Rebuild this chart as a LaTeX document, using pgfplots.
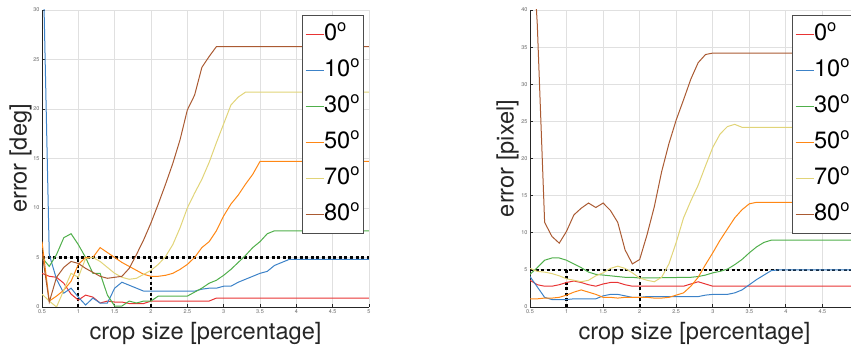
\documentclass[border=0pt]{standalone}
\usepackage{pgfplots}
\pgfplotsset{compat=1.18}
\usepackage{fontspec}
\setmainfont{TeX Gyre Heros}
\definecolor{cRed}{RGB}{232,52,52}
\definecolor{cBlue}{RGB}{60,130,200}
\definecolor{cGreen}{RGB}{80,175,75}
\definecolor{cOrange}{RGB}{255,135,20}
\definecolor{cYellow}{RGB}{225,212,120}
\definecolor{cBrown}{RGB}{170,90,50}
\pgfplotsset{
  myaxis/.style={
    scale only axis,
    anchor=south west,
    xmin=0.5, xmax=5,
    xtick={0.5,1,...,5},
    axis x line*=bottom, axis y line*=left,
    axis line style={line width=0.9pt, black!85},
    every axis plot/.append style={line width=1pt},
    grid=major,
    major grid style={line width=0.8pt, black!12},
    tick style={line width=0.8pt, black!85},
    major tick length=3pt,
    tick align=inside,
    /pgf/number format/assume math mode=true,
    ticklabel style={font=\fontsize{5.5}{6}\selectfont, text=black!60},
    xticklabel style={yshift=1pt},
    yticklabel style={xshift=1pt},
    label style={font=\fontsize{23.6}{28}\selectfont, text=black!85, inner sep=0pt},
    xlabel style={at={(axis description cs:0.5,0)}, anchor=north, yshift=-15pt},
    ylabel style={at={(axis description cs:0,0.5)}, anchor=south},
    legend style={at={(0.983,0.983)}, anchor=north east,
      font=\fontsize{23.6}{28}\selectfont,
      draw=black!70, line width=0.8pt, fill=white,
      inner xsep=3pt, inner ysep=1pt,
      row sep=0pt,
      nodes={inner sep=0pt, text height=24pt, text depth=12pt},
      cells={anchor=west}},
    legend image code/.code={\draw[#1, line width=1pt] (0pt,0pt) -- (18pt,0pt);},
    legend cell align=left,
  },
  dotln/.style={black, line width=2.3pt, dash pattern=on 3pt off 2.6pt, forget plot},
}
\begin{document}
\begin{tikzpicture}[x=1pt,y=1pt]
\clip (0,0) rectangle (851,352);
\useasboundingbox (0,0) rectangle (851,352);
% ---------------- left: error [deg]
\begin{axis}[myaxis, at={(42pt,45pt)}, width=327pt, height=297pt,
  ymin=0, ymax=30, ytick={0,5,...,30},
  xticklabels={0.5,1,1.5,2,2.5,3,3.5,4,4.5,5},
  xlabel={crop size [percentage]},
  ylabel={error [deg]},
  ylabel style={yshift=10pt},
]
\addplot[dotln] coordinates {(0.5,5)(5,5)};
\addplot[dotln] coordinates {(1,0)(1,5)};
\addplot[dotln] coordinates {(2,0)(2,5)};
\addplot[cRed] coordinates {(0.5,3.4)(0.6,3.1)(0.7,3.0)(0.8,2.4)(0.9,1.3)(1.0,0.7)(1.1,1.2)(1.2,1.0)(1.3,0.4)(1.4,0.6)(1.5,0.5)(1.6,0.5)(1.7,0.35)(1.8,0.35)(1.9,0.35)(2.0,0.6)(2.8,0.6)(2.9,0.9)(5,0.9)};
\addplot[cBlue] coordinates {(0.5,40)(0.6,5.3)(0.7,2.8)(0.8,1.4)(0.9,1.9)(1.0,1.0)(1.1,0.2)(1.2,0.9)(1.3,0.4)(1.4,0.4)(1.5,1.9)(1.6,2.5)(1.7,2.2)(1.8,1.9)(1.9,1.6)(2.0,1.6)(2.6,1.6)(2.7,1.8)(2.8,1.9)(2.9,1.9)(3.0,2.1)(3.1,2.1)(3.2,2.5)(3.3,2.8)(3.4,3.1)(3.5,3.4)(3.6,3.6)(3.7,4.2)(3.8,4.5)(3.9,4.8)(5,4.8)};
\addplot[cGreen] coordinates {(0.5,5.0)(0.6,4.1)(0.7,5.3)(0.8,7.0)(0.9,7.4)(1.0,6.3)(1.1,5.0)(1.2,3.4)(1.3,3.4)(1.4,1.2)(1.5,0.1)(1.6,0.1)(1.7,0.6)(1.8,0.4)(1.9,0.6)(2.0,0.6)(2.1,1.1)(2.5,1.1)(2.6,1.5)(2.7,1.9)(2.8,2.4)(2.9,2.7)(3.0,3.2)(3.1,3.8)(3.2,4.5)(3.3,5.2)(3.4,6.0)(3.5,6.6)(3.6,7.4)(3.7,7.7)(5,7.7)};
\addplot[cOrange] coordinates {(0.5,6.6)(0.6,0.6)(0.7,1.1)(0.8,1.7)(0.9,2.6)(1.0,4.3)(1.1,5.0)(1.2,5.0)(1.3,6.0)(1.4,5.5)(1.5,5.0)(1.6,4.5)(1.7,4.1)(1.8,3.7)(1.9,3.3)(2.0,3.1)(2.1,3.1)(2.2,3.2)(2.3,3.4)(2.4,3.8)(2.5,4.3)(2.6,5.0)(2.7,6.0)(2.8,6.6)(2.9,7.7)(3.0,9.2)(3.1,10.4)(3.2,11.3)(3.3,12.4)(3.4,13.4)(3.5,14.7)(5,14.7)};
\addplot[cYellow] coordinates {(0.5,1.3)(0.6,0.6)(0.7,0.0)(0.8,1.7)(0.9,3.4)(1.0,3.0)(1.1,4.9)(1.2,5.0)(1.3,4.6)(1.4,4.0)(1.5,3.4)(1.6,3.0)(1.7,2.8)(1.8,2.9)(1.9,3.3)(2.0,3.7)(2.1,4.3)(2.2,5.1)(2.3,6.3)(2.4,8.0)(2.5,10.0)(2.6,11.5)(2.7,12.9)(2.8,14.6)(2.9,16.6)(3.0,18.5)(3.1,20.4)(3.2,21.2)(3.3,21.7)(5,21.7)};
\addplot[cBrown] coordinates {(0.5,5.5)(0.6,0.5)(0.7,3.0)(0.8,4.0)(0.9,4.6)(1.0,4.4)(1.1,3.9)(1.2,3.5)(1.3,3.1)(1.4,2.9)(1.5,3.0)(1.6,3.1)(1.7,3.9)(1.8,5.3)(1.9,6.8)(2.0,8.5)(2.1,10.4)(2.2,12.4)(2.3,14.5)(2.4,16.9)(2.5,19.9)(2.6,21.4)(2.7,24.2)(2.8,25.3)(2.9,26.3)(5,26.3)};
\legend{0\textsuperscript{o},10\textsuperscript{o},30\textsuperscript{o},50\textsuperscript{o},70\textsuperscript{o},80\textsuperscript{o}}
\end{axis}
% ---------------- right: error [pixel]
\begin{axis}[myaxis, at={(530pt,45pt)}, width=329pt, height=297pt,
  ymin=0, ymax=40, ytick={0,5,...,40},
  xticklabels={0.5,1,1.5,2,2.5,3,3.5,4,4.5,{}},
  xlabel={crop size [percentage]},
  ylabel={error [pixel]},
  ylabel style={yshift=11pt},
]
\addplot[dotln] coordinates {(0.5,5)(5,5)};
\addplot[dotln] coordinates {(1,0)(1,5)};
\addplot[dotln] coordinates {(2,0)(2,5)};
\addplot[cRed] coordinates {(0.5,3.6)(0.6,3.0)(0.7,2.8)(0.8,2.8)(0.9,3.0)(1.0,3.3)(1.1,3.5)(1.2,3.3)(1.3,3.0)(1.4,2.8)(1.5,3.1)(1.6,3.3)(1.7,3.3)(1.8,3.0)(1.9,2.8)(2.6,2.8)(2.7,3.1)(2.8,3.4)(2.9,3.1)(3.0,2.8)(5,2.8)};
\addplot[cBlue] coordinates {(0.5,4.1)(0.6,2.7)(0.7,1.3)(0.8,1.0)(1.0,1.0)(1.1,1.1)(1.4,1.1)(1.5,1.5)(1.6,1.7)(1.7,1.7)(1.8,1.5)(1.9,1.3)(2.0,1.3)(2.1,1.4)(2.8,1.4)(2.9,1.6)(3.0,1.7)(3.2,1.7)(3.3,1.9)(3.4,2.3)(3.5,3.0)(3.6,3.7)(3.7,4.3)(3.8,4.9)(3.9,5.0)(5,5.0)};
\addplot[cGreen] coordinates {(0.5,4.4)(0.6,5.3)(0.7,6.3)(0.8,6.6)(0.9,6.6)(1.0,6.3)(1.1,5.8)(1.2,5.3)(1.3,4.7)(1.4,4.4)(1.5,4.3)(1.6,4.2)(1.7,4.1)(1.8,4.0)(1.9,4.0)(2.0,3.9)(2.7,4.0)(2.8,4.1)(2.9,4.3)(3.0,4.6)(3.1,4.8)(3.2,5.1)(3.3,5.7)(3.4,6.4)(3.5,7.3)(3.6,8.1)(3.7,8.7)(3.8,9.0)(5,9.0)};
\addplot[cOrange] coordinates {(0.5,1.1)(0.6,1.1)(0.7,1.2)(0.8,1.2)(0.9,1.3)(1.0,1.6)(1.1,2.0)(1.2,2.3)(1.3,2.0)(1.4,1.7)(1.5,1.3)(1.6,1.3)(1.7,1.2)(1.8,1.3)(2.1,1.3)(2.2,1.2)(2.3,1.2)(2.4,1.3)(2.5,1.6)(2.6,1.9)(2.7,2.8)(2.8,4.0)(2.9,5.7)(3.0,7.3)(3.1,9.0)(3.2,10.5)(3.3,12.0)(3.4,13.1)(3.5,13.9)(3.6,14.1)(5,14.1)};
\addplot[cYellow] coordinates {(0.5,5.2)(0.6,4.8)(0.7,4.7)(0.8,4.5)(0.9,4.2)(1.0,3.8)(1.1,3.6)(1.2,3.4)(1.3,3.6)(1.4,4.2)(1.5,4.6)(1.6,5.2)(1.7,5.5)(1.8,5.2)(1.9,4.6)(2.0,3.9)(2.1,3.6)(2.2,3.4)(2.3,4.0)(2.4,5.8)(2.5,8.7)(2.6,12.0)(2.7,14.3)(2.8,16.4)(2.9,19.0)(3.0,21.5)(3.1,23.3)(3.2,24.3)(3.3,24.6)(3.4,24.2)(5,24.2)};
\addplot[cBrown] coordinates {(0.5,55)(0.6,38)(0.7,11.4)(0.8,9.5)(0.9,8.6)(1.0,10.2)(1.1,12.4)(1.2,13.3)(1.3,14.0)(1.4,13.4)(1.5,14.0)(1.6,13.0)(1.7,11.4)(1.8,7.7)(1.9,5.8)(2.0,6.4)(2.1,9.7)(2.2,13.5)(2.3,18.2)(2.4,22.0)(2.5,25.2)(2.6,27.9)(2.7,30.7)(2.8,32.9)(2.9,34.0)(3.0,34.2)(5,34.2)};
\legend{0\textsuperscript{o},10\textsuperscript{o},30\textsuperscript{o},50\textsuperscript{o},70\textsuperscript{o},80\textsuperscript{o}}
\end{axis}
\end{tikzpicture}
\end{document}
